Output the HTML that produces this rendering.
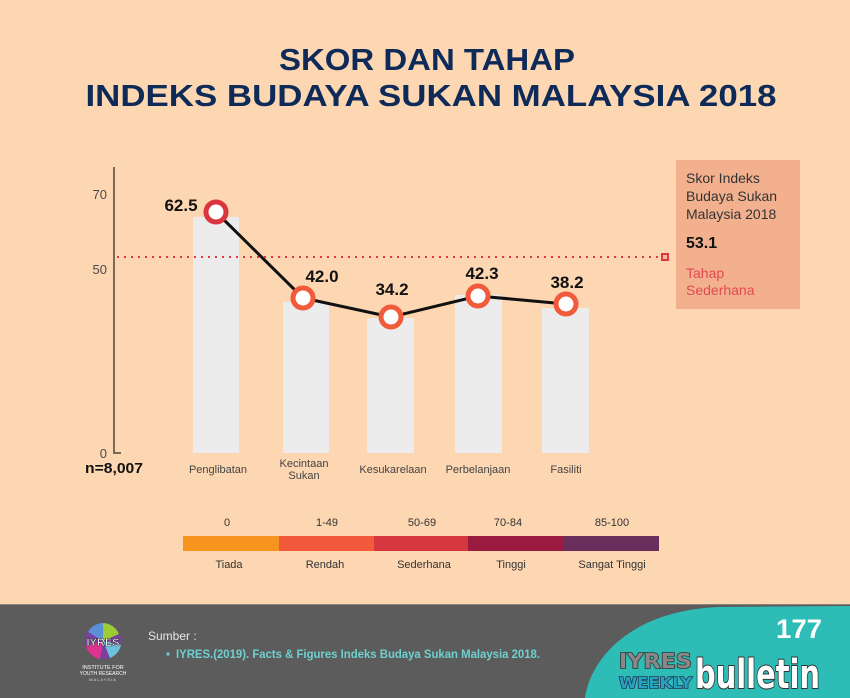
<!DOCTYPE html>
<html><head><meta charset="utf-8"><style>
html,body{margin:0;padding:0;width:850px;height:698px;overflow:hidden;background:#fdd6b2}
svg{display:block}
</style></head><body>
<svg width="850" height="698" viewBox="0 0 850 698" xmlns="http://www.w3.org/2000/svg" font-family="Liberation Sans, sans-serif">
<rect width="850" height="698" fill="#fdd6b2"/>
<!-- Title -->
<text x="427" y="70" text-anchor="middle" font-size="31" font-weight="bold" fill="#0d2a58" textLength="296" lengthAdjust="spacingAndGlyphs">SKOR DAN TAHAP</text>
<text x="431" y="106" text-anchor="middle" font-size="31" font-weight="bold" fill="#0d2a58" textLength="691" lengthAdjust="spacingAndGlyphs">INDEKS BUDAYA SUKAN MALAYSIA 2018</text>

<!-- Axis -->
<line x1="114" y1="167" x2="114" y2="454" stroke="#7a6a5c" stroke-width="2"/>
<line x1="113" y1="453" x2="121" y2="453" stroke="#7a6a5c" stroke-width="2"/>
<text x="107" y="199" text-anchor="end" font-size="13" fill="#4a4a4a">70</text>
<text x="107" y="274" text-anchor="end" font-size="13" fill="#4a4a4a">50</text>
<text x="107" y="458" text-anchor="end" font-size="13" fill="#4a4a4a">0</text>
<text x="85" y="473" font-size="15" font-weight="bold" fill="#111" textLength="58" lengthAdjust="spacingAndGlyphs">n=8,007</text>

<!-- Bars -->
<g fill="#ececec">
<rect x="193" y="217" width="46" height="236"/>
<rect x="283" y="302" width="46" height="151"/>
<rect x="367" y="318" width="47" height="135"/>
<rect x="455" y="295" width="47" height="158"/>
<rect x="542" y="308" width="47" height="145"/>
</g>

<!-- dotted average line -->
<line x1="117" y1="257" x2="660" y2="257" stroke="#e0383e" stroke-width="2" stroke-dasharray="2 5"/>
<rect x="662" y="254" width="6" height="6" fill="#f5b9a0" stroke="#e0383e" stroke-width="2"/>

<!-- line -->
<polyline points="216,212 303,298 391,317 478,296 566,304" fill="none" stroke="#111" stroke-width="3"/>
<g stroke-width="5" fill="#fff">
<circle cx="216" cy="212" r="10" stroke="#d9363e"/>
<circle cx="303" cy="298" r="10" stroke="#f15a3a"/>
<circle cx="391" cy="317" r="10" stroke="#f15a3a"/>
<circle cx="478" cy="296" r="10" stroke="#f15a3a"/>
<circle cx="566" cy="304" r="10" stroke="#f15a3a"/>
</g>
<g font-size="17" font-weight="bold" fill="#111" text-anchor="middle">
<text x="181" y="211">62.5</text>
<text x="322" y="282">42.0</text>
<text x="392" y="295">34.2</text>
<text x="482" y="279">42.3</text>
<text x="567" y="288">38.2</text>
</g>

<!-- x labels -->
<g font-size="11" fill="#444" text-anchor="middle">
<text x="218" y="473">Penglibatan</text>
<text x="304" y="467">Kecintaan</text>
<text x="304" y="479">Sukan</text>
<text x="393" y="473">Kesukarelaan</text>
<text x="478" y="473">Perbelanjaan</text>
<text x="566" y="473">Fasiliti</text>
</g>

<!-- info box -->
<rect x="676" y="160" width="124" height="149" fill="#f2b08e"/>
<g font-size="14" fill="#333">
<text x="686" y="183">Skor Indeks</text>
<text x="686" y="201">Budaya Sukan</text>
<text x="686" y="219">Malaysia 2018</text>
</g>
<text x="686" y="248" font-size="16" font-weight="bold" fill="#111">53.1</text>
<g font-size="14" fill="#e04a50">
<text x="686" y="278">Tahap</text>
<text x="686" y="295">Sederhana</text>
</g>

<!-- legend scale -->
<rect x="183" y="536" width="96" height="15" fill="#f7941d"/>
<rect x="279" y="536" width="95" height="15" fill="#f15a3a"/>
<rect x="374" y="536" width="94" height="15" fill="#d7373f"/>
<rect x="468" y="536" width="95" height="15" fill="#9b1b40"/>
<rect x="563" y="536" width="96" height="15" fill="#6b2d5b"/>
<g font-size="11" fill="#333" text-anchor="middle">
<text x="227" y="526">0</text>
<text x="327" y="526">1-49</text>
<text x="422" y="526">50-69</text>
<text x="508" y="526">70-84</text>
<text x="612" y="526">85-100</text>
<text x="229" y="568">Tiada</text>
<text x="325" y="568">Rendah</text>
<text x="424" y="568">Sederhana</text>
<text x="511" y="568">Tinggi</text>
<text x="612" y="568">Sangat Tinggi</text>
</g>

<!-- footer -->
<rect x="0" y="604" width="850" height="94" fill="#5c5c5c"/>
<line x1="0" y1="604.5" x2="850" y2="604.5" stroke="#8d8078" stroke-width="1"/>
<path d="M585,698 C590,660 630,610 720,607 L850,606 L850,698 Z" fill="#2dbdb6"/>

<!-- logo -->
<g>
<circle cx="103" cy="641" r="18" fill="#7a3fa0"/>
<path d="M88,632 A18,18 0 0 1 103,623 L103,641 Z" fill="#5b8fd6"/>
<path d="M103,623 A18,18 0 0 1 119,634 L103,641 Z" fill="#9acd32"/>
<path d="M86,646 A18,18 0 0 0 100,659 L103,641 Z" fill="#e0338f"/>
<path d="M110,658 A18,18 0 0 0 121,645 L103,641 Z" fill="#6cc0e0"/>
<text x="103" y="646" text-anchor="middle" font-size="11" font-weight="bold" fill="#fff" stroke="#333" stroke-width="0.6">IYRES</text>
<text x="103" y="669" text-anchor="middle" font-size="5.5" fill="#fff">INSTITUTE FOR</text>
<text x="103" y="675" text-anchor="middle" font-size="5" fill="#fff">YOUTH RESEARCH</text>
<text x="103" y="681" text-anchor="middle" font-size="4" fill="#ddd" letter-spacing="1">MALAYSIA</text>
</g>
<text x="148" y="640" font-size="12" fill="#e6e6e6">Sumber :</text>
<circle cx="168" cy="654" r="1.6" fill="#6fd0cf"/>
<text x="176" y="658" font-size="12" font-weight="bold" fill="#6fd0cf" textLength="364" lengthAdjust="spacingAndGlyphs">IYRES.(2019). Facts &amp; Figures Indeks Budaya Sukan Malaysia 2018.</text>

<!-- bulletin logo -->
<text x="822" y="638" text-anchor="end" font-size="27" font-weight="bold" fill="#fff" textLength="46" lengthAdjust="spacingAndGlyphs">177</text>
<text x="619" y="668" font-family="DejaVu Sans, sans-serif" font-size="20" font-weight="bold" fill="#888" stroke="#333" stroke-width="1.5" paint-order="stroke" textLength="73" lengthAdjust="spacingAndGlyphs">IYRES</text>
<text x="619" y="688" font-family="DejaVu Sans, sans-serif" font-size="15" font-weight="bold" fill="#2aa0c0" stroke="#1f3a50" stroke-width="1.5" paint-order="stroke" textLength="73" lengthAdjust="spacingAndGlyphs">WEEKLY</text>
<text x="695" y="688" font-family="DejaVu Sans, sans-serif" font-size="40" font-weight="bold" fill="#fff" stroke="#333" stroke-width="2" paint-order="stroke" textLength="125" lengthAdjust="spacingAndGlyphs">bulletin</text>
</svg>
</body></html>
